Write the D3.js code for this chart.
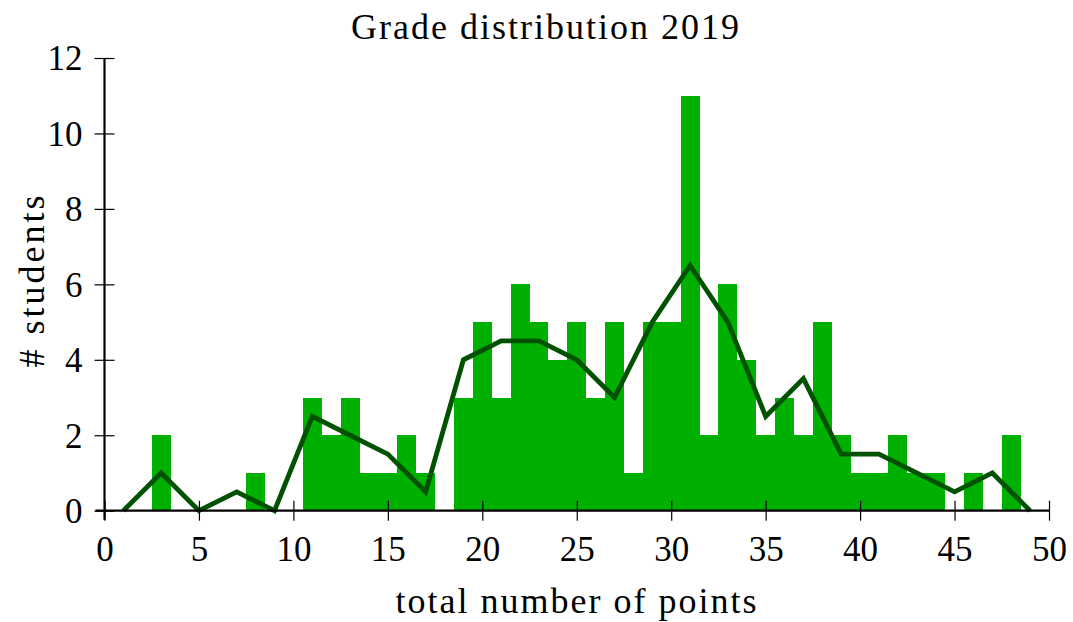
<!DOCTYPE html>
<html>
<head>
<meta charset="utf-8">
<script src="https://cdn.jsdelivr.net/npm/d3@7"></script>
<style>
  body { margin: 0; background: #fff; }
  text { font-family: 'Liberation Serif', 'DejaVu Serif', serif; fill: #000; }
</style>
</head>
<body>
<div id="chart"></div>
<script>
// Histogram counts per point value (bar centres 1..49)
const points = d3.range(1, 50);
const counts = [0, 0, 2, 0, 0, 0, 0, 1, 0, 0,
                3, 2, 3, 1, 1, 2, 1, 0, 3, 5,
                3, 6, 5, 4, 5, 3, 5, 1, 5, 5,
                11, 2, 6, 4, 2, 3, 2, 5, 2, 1,
                1, 2, 1, 1, 0, 1, 0, 2, 0];

// Smoothed line
const lineX = [1, 3, 5, 7, 9, 11, 13, 15, 17, 19, 21, 23, 25, 27, 29, 31, 33, 35, 37, 39, 41, 43, 45, 47, 49];
const lineY = [0, 1, 0, 0.5, 0, 2.5, 2, 1.5, 0.5, 4, 4.5, 4.5, 4, 3, 5, 6.5, 5, 2.5, 3.5, 1.5, 1.5, 1, 0.5, 1, 0];

const xTicks = [0, 5, 10, 15, 20, 25, 30, 35, 40, 45, 50];
const yTicks = [0, 2, 4, 6, 8, 10, 12];

const W = 1073, H = 622;
const svg = d3.select('#chart').append('svg')
  .attr('width', W)
  .attr('height', H);

const x = d3.scaleLinear().domain([0, 50]).range([104.5, 1049]);
const y = d3.scaleLinear().domain([0, 12]).range([510.7, 58]);

// Bars
svg.append('g')
  .selectAll('rect')
  .data(points.map((p, i) => ({ p: p, c: counts[i] })).filter(d => d.c > 0))
  .enter()
  .append('rect')
  .attr('x', d => x(d.p - 0.5))
  .attr('width', d => x(d.p + 0.5) - x(d.p - 0.5))
  .attr('y', d => y(d.c))
  .attr('height', d => y(0) - y(d.c))
  .attr('fill', '#00b000')
  .attr('shape-rendering', 'crispEdges');

// Line
const line = d3.line()
  .x(d => x(d[0]))
  .y(d => y(d[1]));
svg.append('path')
  .attr('d', line(lineX.map((v, i) => [v, lineY[i]])))
  .attr('fill', 'none')
  .attr('stroke', '#005200')
  .attr('stroke-width', 4.8)
  .attr('stroke-linejoin', 'miter');

// X axis
const xAxis = svg.append('g').attr('transform', 'translate(0,' + y(0) + ')');
xAxis.call(d3.axisBottom(x).tickValues(xTicks).tickSize(0).tickPadding(0).tickFormat(''));
xAxis.select('.domain').remove();
xAxis.append('line')
  .attr('x1', x(0) - 9).attr('x2', x(50) + 1)
  .attr('stroke', '#000').attr('stroke-width', 2.2);
xAxis.selectAll('.tick')
  .append('line')
  .attr('y1', -10).attr('y2', 10)
  .attr('stroke', '#000').attr('stroke-width', 1.2);
xAxis.selectAll('.tick')
  .append('text')
  .attr('y', 50)
  .attr('text-anchor', 'middle')
  .attr('font-size', '35px')
  .text(d => d);

// Y axis
const yAxis = svg.append('g').attr('transform', 'translate(' + x(0) + ',0)');
yAxis.call(d3.axisLeft(y).tickValues(yTicks).tickSize(0).tickFormat(''));
yAxis.select('.domain').remove();
yAxis.append('line')
  .attr('y1', y(0) + 9).attr('y2', y(12))
  .attr('stroke', '#000').attr('stroke-width', 2.2);
yAxis.selectAll('.tick')
  .append('line')
  .attr('x1', -10).attr('x2', 10)
  .attr('stroke', '#000').attr('stroke-width', 1.2);
yAxis.selectAll('.tick')
  .append('text')
  .attr('x', -22)
  .attr('dy', '0.34em')
  .attr('text-anchor', 'end')
  .attr('font-size', '35px')
  .text(d => d);

// Title and labels
svg.append('text')
  .attr('x', 546)
  .attr('y', 39)
  .attr('text-anchor', 'middle')
  .attr('font-size', '36px')
  .attr('letter-spacing', '2px')
  .text('Grade distribution 2019');

svg.append('text')
  .attr('x', 577)
  .attr('y', 613)
  .attr('text-anchor', 'middle')
  .attr('font-size', '36px')
  .attr('letter-spacing', '2px')
  .text('total number of points');

svg.append('text')
  .attr('transform', 'translate(44,' + 280 + ') rotate(-90)')
  .attr('text-anchor', 'middle')
  .attr('font-size', '36px')
  .attr('letter-spacing', '3px')
  .text('# students');
</script>
</body>
</html>
